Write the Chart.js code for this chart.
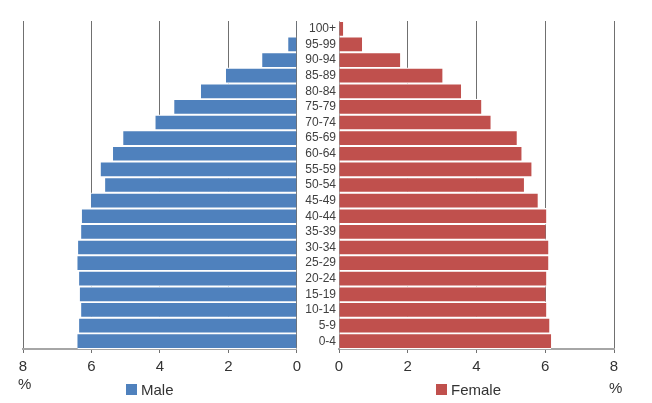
<!DOCTYPE html>
<html>
<head>
<meta charset="utf-8">
<script src="https://cdn.jsdelivr.net/npm/chart.js@4/dist/chart.umd.min.js"></script>
<style>
  body { margin: 0; background: #fff; }
  #wrap { position: relative; width: 652px; height: 403px; font-family: "Liberation Sans", Arial, sans-serif; color: #333; }
  #wrap canvas { position: absolute; top: 0; }
  .lbl { position: absolute; font-size: 15px; line-height: 15px; white-space: nowrap; }
  .sw { position: absolute; width: 11px; height: 11px; }
</style>
</head>
<body>
<div id="wrap">
  <canvas id="maleChart" width="306" height="403" style="left:0"></canvas>
  <canvas id="femaleChart" width="352" height="403" style="left:300px"></canvas>
  <div class="lbl" style="left:18px; top:376px">%</div>
  <div class="lbl" style="left:609px; top:380px">%</div>
  <div class="sw" style="left:126px; top:384px; background:#4f81bd"></div>
  <div class="lbl" style="left:141px; top:382px">Male</div>
  <div class="sw" style="left:436px; top:384px; background:#c0504d"></div>
  <div class="lbl" style="left:451px; top:382px">Female</div>
</div>
<script>
// age groups, youngest first (drawn bottom-up)
const ageGroups = ['0-4', '5-9', '10-14', '15-19', '20-24', '25-29', '30-34', '35-39', '40-44', '45-49',
    '50-54', '55-59', '60-64', '65-69', '70-74', '75-79', '80-84', '85-89', '90-94', '95-99', '100+'];
const maleShare = [6.41, 6.36, 6.30, 6.34, 6.36, 6.41, 6.39, 6.30, 6.28, 6.01,
    5.60, 5.73, 5.37, 5.07, 4.13, 3.58, 2.80, 2.07, 1.01, 0.25, 0.02];
const femaleShare = [6.17, 6.12, 6.03, 6.01, 6.03, 6.09, 6.09, 6.01, 6.03, 5.78,
    5.38, 5.60, 5.31, 5.17, 4.41, 4.14, 3.55, 3.01, 1.78, 0.67, 0.12];
const axisMax = 8;
const axisStep = 2;

const font = '"Liberation Sans", Arial, sans-serif';

function xScale(reverse) {
    return {
        type: 'linear',
        reverse: reverse,
        min: 0,
        max: axisMax,
        ticks: { stepSize: axisStep, color: '#333', font: { family: font, size: 15 }, padding: 5 },
        grid: { color: '#707070', lineWidth: 1, tickLength: 4 },
        border: { display: true, color: '#a6a6a6', width: 2 },
        afterFit: s => { s.height = 54; }
    };
}

function pyramidSide(canvasId, values, color, reverse, showLabels, padding) {
    const ctx = document.getElementById(canvasId);
    return new Chart(ctx, {
        type: 'bar',
        data: {
            labels: ageGroups,
            datasets: [{
                data: values,
                backgroundColor: color,
                // white top/bottom edges give the gaps between bars and hide the grid there
                borderColor: '#ffffff',
                borderWidth: { top: 1.3, bottom: 1.3, left: 0, right: 0 },
                borderSkipped: false,
                barPercentage: 1,
                categoryPercentage: 1
            }]
        },
        options: {
            indexAxis: 'y',
            responsive: false,
            animation: false,
            layout: { padding: padding },
            plugins: { legend: { display: false }, tooltip: { enabled: false } },
            scales: {
                x: xScale(reverse),
                y: {
                    display: showLabels,
                    reverse: true,
                    ticks: { autoSkip: false, color: '#404040', font: { family: font, size: 12 }, padding: 3 },
                    grid: { display: false, drawTicks: false },
                    border: { display: true, color: '#8c8c8c', width: 1 },
                    afterFit: s => { s.width = showLabels ? 39 : 0; }
                }
            }
        }
    });
}

pyramidSide('maleChart', maleShare, '#4f81bd', true, false, { left: 23, right: 8, top: 21, bottom: 0 });
pyramidSide('femaleChart', femaleShare, '#c0504d', false, true, { left: 0, right: 38, top: 21, bottom: 0 });
</script>
</body>
</html>
